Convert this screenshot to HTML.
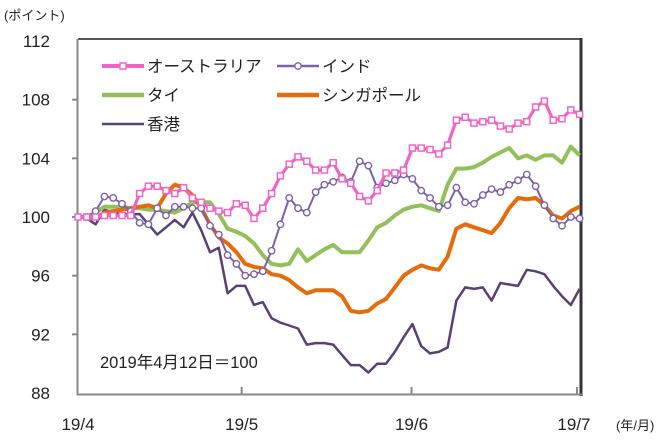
<!DOCTYPE html>
<html><head><meta charset="utf-8"><style>
html,body{margin:0;padding:0;background:#fff;}
svg text{font-family:"Liberation Sans","Noto Sans CJK JP",sans-serif;fill:#222;}
</style></head><body>
<svg id="chart" width="662" height="442" viewBox="0 0 662 442" xmlns="http://www.w3.org/2000/svg">
<text x="4" y="20" font-size="13">(ポイント)</text>
<text x="616" y="430" font-size="13">(年/月)</text>
<g id="axes"></g>
<g id="series"></g>
<g id="legend"></g>
<text x="100" y="368" font-size="16.5">2019年4月12日＝100</text>
</svg>
<script>
const yTicks = [88, 92, 96, 100, 104, 108, 112];
const xTickLabels = ["19/4", "19/5", "19/6", "19/7"];
const xTickIdx = [0, 18.6, 37.9, 56.7];
const australia = [100,100,100,100.1,100.1,100.1,100.1,101.6,102.1,102.1,101.8,101.6,102,101.3,101,100.6,100.4,100.3,100.9,100.8,99.9,100.6,101.6,102.8,103.6,104.1,103.8,103.2,103.2,103.7,102.6,102.3,101.4,101.1,101.8,103,103,103.2,104.7,104.7,104.6,104.3,104.9,106.6,106.8,106.4,106.5,106.6,106.2,106,106.4,106.5,107.5,107.9,106.6,106.7,107.3,107];
const india = [100,100,100.4,101.4,101.3,100.9,100.4,99.6,99.5,100.6,100.1,100.7,100.7,100.6,100.6,99.4,98.8,97.4,96.8,96,96.1,96.3,97.7,99.5,101.3,100.6,100.3,101.7,102.2,102.4,102.7,102.4,103.8,103.5,102,102.3,102.5,102.9,102.6,101.8,101.3,100.7,100.8,102,101,100.9,101.5,101.9,101.7,102.2,102.5,102.9,102.1,100.8,99.9,99.4,100,99.9];
const thailand = [100,100,100.3,100.7,100.7,100.7,100.6,100.6,100.5,100.5,100.4,100.3,100.6,101,101,101,100.2,99.2,99,98.7,98.2,97.4,96.8,96.7,96.8,97.8,97,97.4,97.8,98.1,97.6,97.6,97.6,98.4,99.3,99.6,100.1,100.5,100.7,100.8,100.6,100.4,102.2,103.3,103.3,103.4,103.7,104.1,104.4,104.7,104,104.2,103.9,104.2,104.2,103.7,104.8,104.2];
const singapore = [100,100,99.9,100.3,100.4,100.5,100.6,100.7,100.8,100.6,101.6,102.2,102,101.5,100.6,99.5,98.6,98.2,97.6,96.8,96.6,96.5,96.1,96,95.7,95.2,94.8,95,95,95,94.6,93.6,93.5,93.6,94.1,94.4,95.2,96,96.4,96.7,96.5,96.4,97.3,99.2,99.5,99.3,99.1,98.9,99.6,100.6,101.3,101.2,101.3,100.8,100.1,99.9,100.4,100.7];
const hongkong = [100,99.9,99.5,100.5,100.3,100.2,100.2,100.2,99.5,98.8,99.3,99.8,99.3,100.3,99.1,97.6,97.9,94.8,95.3,95.3,94,94.2,93.1,92.8,92.6,92.4,91.3,91.4,91.4,91.3,90.6,89.9,89.9,89.4,90,90,90.8,91.8,92.7,91.2,90.7,90.8,91.1,94.3,95.2,95.1,95.2,94.3,95.5,95.4,95.3,96.4,96.3,96.1,95.3,94.6,94,95.1];

const NS = "http://www.w3.org/2000/svg";
const X0 = 78, X1 = 579.6, Y_TOP = 41, Y_BOT = 393;
const N = australia.length;
function xs(i){ return X0 + i * (X1 - X0) / (N - 1); }
function ys(v){ return Y_BOT - (v - 88) / 24 * (Y_BOT - Y_TOP); }
function mk(tag, attrs, parent){ const e = document.createElementNS(NS, tag); for (const k in attrs) e.setAttribute(k, attrs[k]); parent.appendChild(e); return e; }

const axes = document.getElementById('axes');
// frame
mk('line', {x1:78, y1:39, x2:582, y2:39, stroke:'#555', 'stroke-width':2}, axes);
const rb = mk('line', {x1:581, y1:38, x2:581, y2:396, stroke:'#333', 'stroke-width':3}, axes);


const ya = mk('line', {x1:77.5, y1:39, x2:77.5, y2:395, stroke:'#888', 'stroke-width':2}, axes);


const xa = mk('line', {x1:77, y1:394.5, x2:582, y2:394.5, stroke:'#888', 'stroke-width':2}, axes);



yTicks.forEach(v => {
  const y = ys(v);
  if (v !== 88 && v !== 112) mk('line', {x1:72, y1:y, x2:78, y2:y, stroke:'#888', 'stroke-width':2}, axes);
  const t = mk('text', {x:50, y:y + 6, 'font-size':17, 'text-anchor':'end'}, axes);
  t.textContent = v;
  
  
});
xTickLabels.forEach((lab, k) => {
  const x = xs(xTickIdx[k]);
  if (k > 0) mk('line', {x1:x, y1:387, x2:x, y2:395, stroke:'#888', 'stroke-width':2}, axes);
  const t = mk('text', {x: k === 3 ? x - 3 : x, y:430, 'font-size':17, 'text-anchor':'middle'}, axes);
  t.textContent = lab;
  
  
});

const seriesG = document.getElementById('series');
function drawLine(vals, color, w, name, marker){
  const pts = vals.map((v, i) => xs(i).toFixed(1) + ',' + ys(v).toFixed(1)).join(' ');
  const g = mk('g', {}, seriesG);
  
  
  mk('polyline', {points:pts, fill:'none', stroke:color, 'stroke-width':w, 'stroke-linejoin':'round'}, g);
  if (marker) vals.forEach((v, i) => {
    let m;
    if (marker === 'square') m = mk('rect', {x:xs(i)-3, y:ys(v)-3, width:6, height:6, fill:'#fff', stroke:color, 'stroke-width':1.5}, g);
    else m = mk('circle', {cx:xs(i), cy:ys(v), r:3.2, fill:'#fff', stroke:color, 'stroke-width':1.4}, g);
    
    
  });
}
drawLine(hongkong, '#5a3f78', 2.5, 'hongkong-line', null);
drawLine(thailand, '#92c05a', 4, 'thailand-line', null);
drawLine(singapore, '#e46c0a', 4, 'singapore-line', null);
drawLine(india, '#7b62a8', 2, 'india-line', 'circle');
drawLine(australia, '#f064c8', 3.2, 'australia-line', 'square');

const lg = document.getElementById('legend');
const entries = [
  ['オーストラリア', '#f064c8', 4, 'square', 102, 66],
  ['インド', '#7b62a8', 2.5, 'circle', 277, 66],
  ['タイ', '#92c05a', 4.5, null, 102, 95],
  ['シンガポール', '#e46c0a', 4.5, null, 277, 95],
  ['香港', '#5a3f78', 2.5, null, 102, 124]
];
entries.forEach(e => {
  const g = mk('g', {}, lg);
  
  
  mk('line', {x1:e[4], y1:e[5], x2:e[4]+42, y2:e[5], stroke:e[1], 'stroke-width':e[2]}, g);
  if (e[3] === 'square') mk('rect', {x:e[4]+18, y:e[5]-3, width:6, height:6, fill:'#fff', stroke:e[1], 'stroke-width':1.5}, g);
  if (e[3] === 'circle') mk('circle', {cx:e[4]+21, cy:e[5], r:3.2, fill:'#fff', stroke:e[1], 'stroke-width':1.4}, g);
  const t = mk('text', {x:e[4]+45, y:e[5]+6, 'font-size':16.5}, g);
  t.textContent = e[0];
});
</script>
</body></html>
